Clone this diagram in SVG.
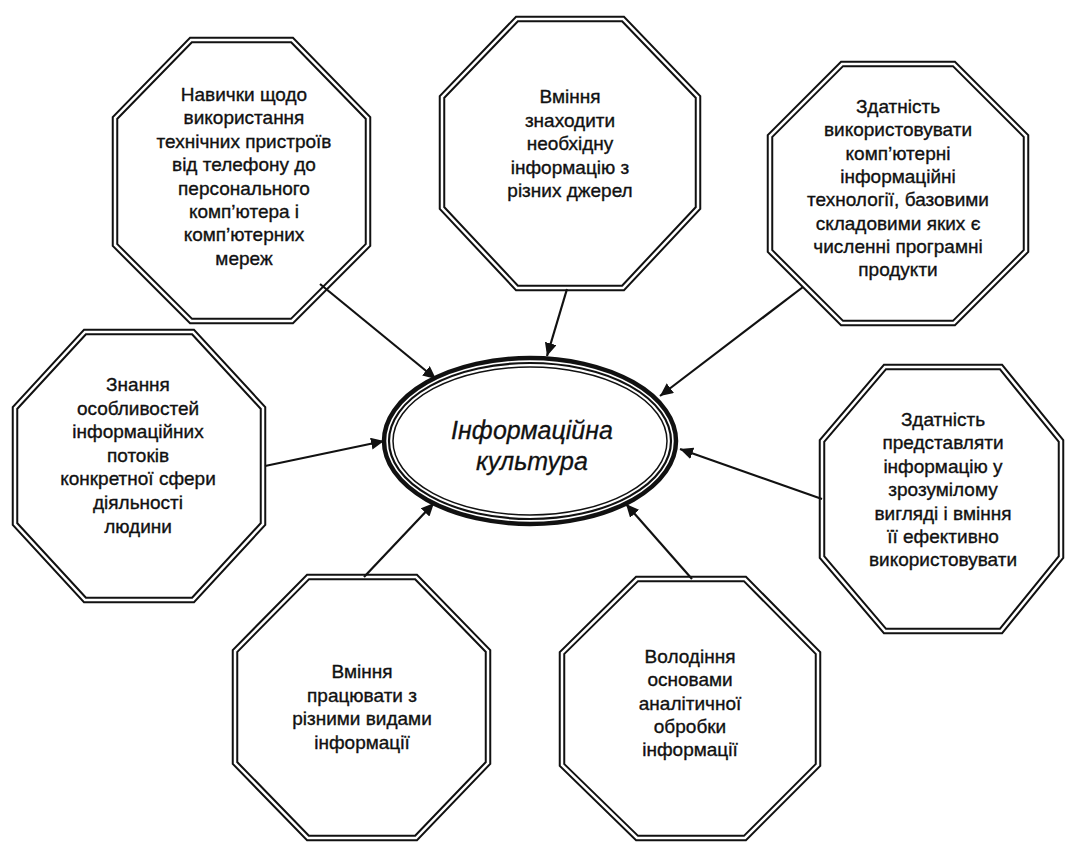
<svg xmlns="http://www.w3.org/2000/svg" width="1065" height="844" viewBox="0 0 1065 844">
<style>
.bg{fill:#ffffff}
.oct{fill:#ffffff;stroke:#111;stroke-width:6.5;stroke-linejoin:miter}
.gap{fill:none;stroke:#ffffff;stroke-width:2.5;stroke-linejoin:miter}
.lbl{font-family:"Liberation Sans",Arial,sans-serif;font-size:19px;fill:#111;stroke:#111;stroke-width:0.35;text-anchor:middle}
.title{font-family:"Liberation Sans",Arial,sans-serif;font-size:25px;font-style:italic;fill:#111;stroke:#111;stroke-width:0.3;text-anchor:middle}
.conn{stroke:#111;stroke-width:2.2;fill:none;marker-end:url(#arr)}
.ell{fill:none;stroke:#111}
</style>
<defs>
<marker id="arr" markerUnits="userSpaceOnUse" markerWidth="14" markerHeight="12" refX="13" refY="6" orient="auto">
<path d="M0,0 L13,6 L0,12 Z" fill="#111"/>
</marker>
</defs>
<rect class="bg" x="0" y="0" width="1065" height="844"/>

<g id="node-skills-devices">
<polygon class="oct" points="191,40 292,40 368,118 368,245 292,321 191,321 115,245 115,118"/>
<polygon class="gap" points="191,40 292,40 368,118 368,245 292,321 191,321 115,245 115,118"/>
<text class="lbl" x="244" y="101"><tspan x="244">Навички щодо</tspan><tspan x="244" dy="23.4">використання</tspan><tspan x="244" dy="23.4">технічних пристроїв</tspan><tspan x="244" dy="23.4">від телефону до</tspan><tspan x="244" dy="23.4">персонального</tspan><tspan x="244" dy="23.4">комп’ютера і</tspan><tspan x="244" dy="23.4">комп’ютерних</tspan><tspan x="244" dy="23.4">мереж</tspan></text>
</g>

<g id="node-find-info">
<polygon class="oct" points="517,19 623,19 698,97 698,208 623,288 517,288 442,208 442,97"/>
<polygon class="gap" points="517,19 623,19 698,97 698,208 623,288 517,288 442,208 442,97"/>
<text class="lbl" x="570" y="103"><tspan x="570">Вміння</tspan><tspan x="570" dy="23.5">знаходити</tspan><tspan x="570" dy="23.5">необхідну</tspan><tspan x="570" dy="23.5">інформацію з</tspan><tspan x="570" dy="23.5">різних джерел</tspan></text>
</g>

<g id="node-use-it">
<polygon class="oct" points="842,64 954,64 1026,136 1026,251 954,323 842,323 770,251 770,136"/>
<polygon class="gap" points="842,64 954,64 1026,136 1026,251 954,323 842,323 770,251 770,136"/>
<text class="lbl" x="898" y="113"><tspan x="898">Здатність</tspan><tspan x="898" dy="23.3">використовувати</tspan><tspan x="898" dy="23.3">комп’ютерні</tspan><tspan x="898" dy="23.3">інформаційні</tspan><tspan x="898" dy="23.3">технології, базовими</tspan><tspan x="898" dy="23.3">складовими яких є</tspan><tspan x="898" dy="23.3">численні програмні</tspan><tspan x="898" dy="23.3">продукти</tspan></text>
</g>

<g id="node-knowledge-flows">
<polygon class="oct" points="85,332 193,332 263,408 263,524 193,600 85,600 15,524 15,408"/>
<polygon class="gap" points="85,332 193,332 263,408 263,524 193,600 85,600 15,524 15,408"/>
<text class="lbl" x="138" y="391"><tspan x="138">Знання</tspan><tspan x="138" dy="23.6">особливостей</tspan><tspan x="138" dy="23.6">інформаційних</tspan><tspan x="138" dy="23.6">потоків</tspan><tspan x="138" dy="23.6">конкретної сфери</tspan><tspan x="138" dy="23.6">діяльності</tspan><tspan x="138" dy="23.6">людини</tspan></text>
</g>

<g id="node-present-info">
<polygon class="oct" points="885,367 1001,367 1061,441 1061,557 1001,631 885,631 822,557 822,441"/>
<polygon class="gap" points="885,367 1001,367 1061,441 1061,557 1001,631 885,631 822,557 822,441"/>
<text class="lbl" x="943" y="426"><tspan x="943">Здатність</tspan><tspan x="943" dy="23.4">представляти</tspan><tspan x="943" dy="23.4">інформацію у</tspan><tspan x="943" dy="23.4">зрозумілому</tspan><tspan x="943" dy="23.4">вигляді і вміння</tspan><tspan x="943" dy="23.4">її ефективно</tspan><tspan x="943" dy="23.4">використовувати</tspan></text>
</g>

<g id="node-work-types">
<polygon class="oct" points="308,577 416,577 488,651 488,763 416,838 308,838 235,763 235,651"/>
<polygon class="gap" points="308,577 416,577 488,651 488,763 416,838 308,838 235,763 235,651"/>
<text class="lbl" x="362" y="678"><tspan x="362">Вміння</tspan><tspan x="362" dy="23.7">працювати з</tspan><tspan x="362" dy="23.7">різними видами</tspan><tspan x="362" dy="23.7">інформації</tspan></text>
</g>

<g id="node-analytics">
<polygon class="oct" points="637,579 745,579 818,653 818,765 745,838 637,838 562,765 562,653"/>
<polygon class="gap" points="637,579 745,579 818,653 818,765 745,838 637,838 562,765 562,653"/>
<text class="lbl" x="690" y="663"><tspan x="690">Володіння</tspan><tspan x="690" dy="23.3">основами</tspan><tspan x="690" dy="23.3">аналітичної</tspan><tspan x="690" dy="23.3">обробки</tspan><tspan x="690" dy="23.3">інформації</tspan></text>
</g>

<g id="node-center">
<ellipse cx="530" cy="441" rx="146" ry="83" fill="#ffffff" stroke="#111" stroke-width="4.5"/>
<ellipse class="ell" cx="530" cy="441" rx="141" ry="78" stroke-width="2.2"/>
<ellipse class="ell" cx="530" cy="441" rx="137" ry="74" stroke-width="1.5"/>
<text class="title" x="532" y="439">Інформаційна</text>
<text class="title" x="532" y="470">культура</text>
</g>

<g id="connectors">
<line class="conn" x1="320" y1="284" x2="436" y2="379"/>
<line class="conn" x1="567" y1="289" x2="547" y2="356"/>
<line class="conn" x1="803" y1="287" x2="660" y2="396"/>
<line class="conn" x1="265" y1="466" x2="384" y2="441"/>
<line class="conn" x1="822" y1="499" x2="680" y2="449"/>
<line class="conn" x1="364" y1="577" x2="434" y2="503"/>
<line class="conn" x1="692" y1="579" x2="626" y2="504"/>
</g>
</svg>
